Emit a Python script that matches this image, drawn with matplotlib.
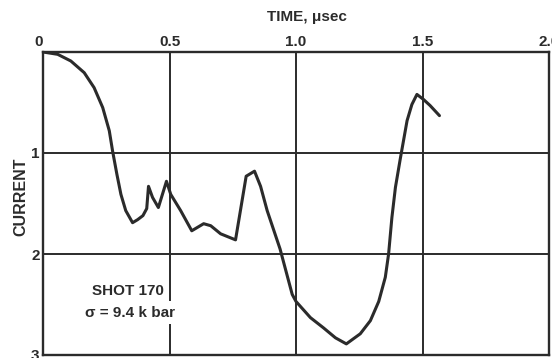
import matplotlib
matplotlib.use("Agg")
import matplotlib.pyplot as plt
from matplotlib.transforms import ScaledTranslation

time_us = [0, 0.058, 0.110, 0.163, 0.202, 0.236, 0.262, 0.275, 0.292, 0.308, 0.327,
           0.354, 0.374, 0.395, 0.41, 0.417, 0.433, 0.456, 0.488, 0.505, 0.544,
           0.588, 0.635, 0.663, 0.702, 0.761, 0.803, 0.836, 0.86, 0.886, 0.937,
           0.985, 1.0, 1.057, 1.108, 1.156, 1.199, 1.254, 1.294, 1.327, 1.353,
           1.366, 1.379, 1.393, 1.412, 1.439, 1.458, 1.478, 1.504, 1.530, 1.567]
current = [0, 0.023, 0.089, 0.205, 0.353, 0.55, 0.78, 0.98, 1.21, 1.41, 1.57,
           1.69, 1.66, 1.62, 1.55, 1.33, 1.44, 1.54, 1.28, 1.41, 1.57,
           1.77, 1.70, 1.72, 1.80, 1.86, 1.23, 1.18, 1.33, 1.57, 1.95,
           2.40, 2.47, 2.63, 2.73, 2.83, 2.89, 2.79, 2.66, 2.47, 2.23,
           2.00, 1.64, 1.34, 1.06, 0.68, 0.52, 0.42, 0.47, 0.53, 0.63]

x_ticks = [0, 0.5, 1.0, 1.5, 2.0]
x_tick_labels = ["0", "0.5", "1.0", "1.5", "2.0"]
y_ticks = [1, 2, 3]
y_tick_labels = ["1", "2", "3"]

ink = "#2b2b2b"
plt.rcParams['font.family'] = ['Liberation Sans', 'DejaVu Sans']
plt.rcParams['font.weight'] = 'bold'

fig = plt.figure(figsize=(5.52, 3.58), dpi=100)
ax = fig.add_axes([43/552, 3/358, 506/552, 303/358])
ax.set_xlim(0, 2)
ax.set_ylim(3, 0)

for xv in [0.5, 1.0, 1.5]:
    ax.axvline(xv, color=ink, lw=1.4, zorder=1)
for yv in [1, 2]:
    ax.axhline(yv, color=ink, lw=1.4, zorder=1)

ax.plot(time_us, current, color=ink, lw=2.2, zorder=3,
        solid_joinstyle='round', solid_capstyle='round')

for s in ax.spines.values():
    s.set_color(ink)
    s.set_linewidth(1.7)

ax.xaxis.tick_top()
ax.set_xticks(x_ticks)
ax.set_xticklabels(x_tick_labels, fontsize=11, fontweight='bold', color=ink)
ax.set_yticks(y_ticks)
ax.set_yticklabels(y_tick_labels, fontsize=11, fontweight='bold', color=ink)
ax.tick_params(length=0, pad=2.5)
lbl0 = ax.get_xticklabels()[0]
lbl0.set_transform(lbl0.get_transform() + ScaledTranslation(-4/100, 0, fig.dpi_scale_trans))

fig.text(307/552, 1 - 17/358, "TIME, μsec", ha='center', va='center',
         fontsize=11, fontweight='bold', color=ink)
fig.text(21/552, 1 - 197/358, "CURRENT", ha='center', va='center', rotation=90,
         fontsize=11.5, fontweight='bold', color=ink)

ax.text(0.334, 2.37, "SHOT 170", ha='center', va='center', fontsize=11,
        fontweight='bold', color=ink, zorder=4)
ax.text(0.344, 2.58, "σ = 9.4 k bar", ha='center', va='center', fontsize=11,
        fontweight='bold', color=ink, zorder=4,
        bbox=dict(facecolor='white', edgecolor='none', pad=3))

fig.savefig("out.png", dpi=100)
